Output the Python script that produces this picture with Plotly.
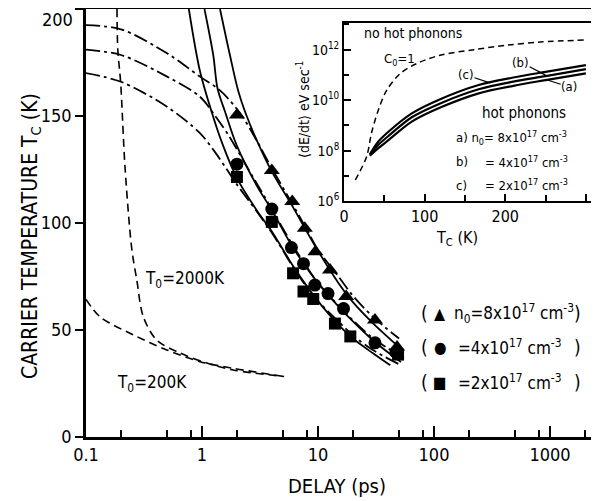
import math
import plotly.graph_objects as go

# ---------------- data: main panel ----------------
delay_tri = [2, 4, 6, 7.7, 9.5, 12.7, 17.5, 31, 48]
tc_tri = [150.5, 124.5, 110, 97.5, 86.6, 78, 65.6, 54.7, 42]
delay_circ = [2, 4, 5.9, 7.5, 9.4, 12.2, 16.6, 31, 47]
tc_circ = [127.5, 106.5, 88.5, 81, 71, 67, 60, 44, 39.5]
delay_sq = [2, 4, 6.1, 7.5, 9.1, 14, 19, 49]
tc_sq = [121.5, 100.5, 76.5, 68, 64.5, 53, 47, 38.5]

# solid model curves (hot phonons)
s1_t = [0.77, 0.96, 1.21, 1.5, 2, 3, 4, 6, 8, 10, 15, 20, 30, 42]
s1_T = [200, 171, 152, 137, 121, 105.5, 96, 80.5, 70.5, 63.5, 52.5, 46, 39, 33.5]
s2_t = [1.05, 1.25, 1.36, 1.58, 2, 3, 4, 6, 8, 10, 15, 20, 30, 52]
s2_T = [200, 178.5, 163, 152, 136, 117, 106, 89, 79, 72, 61, 54, 45, 35]
s3_t = [1.43, 1.74, 2.06, 2.35, 3, 4, 6, 8, 10, 15, 20, 30, 55]
s3_T = [200, 178.5, 161.4, 152, 138, 124, 108, 96, 87, 72, 63, 53, 40]

# dash-dot model curves
d1_t = [0.1, 0.2, 0.5, 0.96, 1.43, 2.15, 3, 4, 6, 8, 10, 15, 20, 30, 50]
d1_T = [192.5, 190.5, 179.3, 168.4, 162, 151, 138, 125.5, 109, 97, 87.5, 75, 66, 56, 46]
d2_t = [0.1, 0.2, 0.5, 0.96, 1.3, 1.74, 2.2, 3, 4, 6, 8, 10, 15, 20, 30, 55]
d2_T = [181, 178.5, 168.4, 159, 150, 140, 130.5, 118, 106.5, 90, 79.5, 72, 61.5, 54.5, 46, 37]
d3_t = [0.1, 0.2, 0.5, 0.96, 1.3, 1.64, 2, 3, 4, 6, 8, 10, 15, 20, 30, 50]
d3_T = [170, 166, 154.3, 142, 133, 125, 118, 105, 95.5, 80, 70, 63.5, 54, 47.5, 40.5, 34]

# dashed curves (T0 = 2000 K, T0 = 200 K)
t2000_t = [0.185, 0.188, 0.199, 0.217, 0.248, 0.274, 0.312, 0.407, 0.645, 1.1, 1.86, 5.1]
t2000_T = [200, 181, 165.4, 126, 88, 73.4, 56.2, 45.3, 39.3, 34.6, 31.3, 28.3]
t200_t = [0.1, 0.132, 0.256, 0.497, 0.96, 1.86, 5.1]
t200_T = [64.3, 56.2, 47.7, 40.7, 35.2, 32.1, 28.3]

# ---------------- data: inset ----------------
ins_dash_T = [14, 28, 34, 42.6, 53, 70, 90, 119, 161, 202, 243, 300]
ins_dash_r = [6.9e6, 5.8e7, 4.9e8, 4.1e9, 2.5e10, 1.15e11, 2.8e11, 6.0e11, 1.0e12, 1.5e12, 2.0e12, 2.4e12]
ins_T = [32, 42.6, 55, 84, 120, 167, 210, 250, 300]
ins_c = [7.1e7, 2.3e8, 5.6e8, 3.0e9, 1.12e10, 4.0e10, 7.9e10, 1.32e11, 2.45e11]
ins_b = [6.8e7, 1.7e8, 3.8e8, 2.1e9, 7.6e9, 2.7e10, 5.4e10, 8.9e10, 1.7e11]
ins_a = [6.3e7, 1.26e8, 2.6e8, 1.41e9, 5.2e9, 1.86e10, 3.7e10, 6.2e10, 1.15e11]

main_xticks = [0.1, 1, 10, 100, 1000]
main_xticktext = ["0.1", "1", "10", "100", "1000"]
main_xminor = [0.2, 0.5, 0.8, 2, 5, 8, 20, 50, 80, 200, 500, 800, 2000]
main_yticks = [0, 50, 100, 150, 200]
main_yticktext = ["0", "50", "100", "150", ""]   # "200" drawn as annotation (top edge)
ins_xticks = [0, 100, 200, 300]
ins_xminor = [50, 150, 250]
ins_yticks = [1e6, 1e8, 1e10, 1e12]
ins_yticktext = ["10<sup>6</sup>", "10<sup>8</sup>", "10<sup>10</sup>", "10<sup>12</sup>"]
ins_yminor = [1e7, 1e9, 1e11, 1e13]

FONT = "Liberation Sans Narrow, DejaVu Sans Condensed, Liberation Sans, Arial, sans-serif"
K = "black"

fig = go.Figure()

def line(x, y, dash="solid", width=1.8, xa="x", ya="y"):
    fig.add_trace(go.Scatter(x=x, y=y, mode="lines", xaxis=xa, yaxis=ya,
                             line=dict(color=K, width=width, dash=dash, shape="spline", smoothing=0.9),
                             hoverinfo="skip"))

DASHDOT = "14px,4px,3px,4px"
DASH = "8px,5px"
for xs, ys in [(s1_t, s1_T), (s2_t, s2_T), (s3_t, s3_T)]:
    line(xs, ys, "solid", 1.8)
for xs, ys in [(d1_t, d1_T), (d2_t, d2_T), (d3_t, d3_T)]:
    line(xs, ys, DASHDOT, 1.8)
line(t2000_t, t2000_T, DASH, 1.6)
line(t200_t, t200_T, DASH, 1.6)

for xs, ys, sym, sz in [(delay_tri, tc_tri, "triangle-up", 14),
                        (delay_circ, tc_circ, "circle", 13),
                        (delay_sq, tc_sq, "square", 12)]:
    fig.add_trace(go.Scatter(x=xs, y=ys, mode="markers",
                             marker=dict(symbol=sym, size=sz, color=K, line=dict(width=0)),
                             hoverinfo="skip"))

# inset
line(ins_dash_T, ins_dash_r, "6px,4px", 1.5, "x2", "y2")
for ys in [ins_a, ins_b, ins_c]:
    line(ins_T, ys, "solid", 2.2, "x2", "y2")

axis_common = dict(showline=True, linecolor=K, showgrid=False, zeroline=False,
                   automargin=False, tickcolor=K,
                   tickfont=dict(family=FONT, size=18, color=K))

# The page body has an 8px margin, so the figure is 8px smaller and the
# margins are measured from the figure's own corner.
fig.update_layout(
    width=591, height=493,
    margin=dict(l=78, r=1, t=1, b=64, autoexpand=False),
    paper_bgcolor="white", plot_bgcolor="white",
    showlegend=False,
    xaxis=dict(type="log", range=[-1, 3.414], linewidth=2.5, mirror=True,
               ticks="inside", ticklen=11, tickwidth=2,
               tickmode="array", tickvals=main_xticks, ticktext=main_xticktext,
               minor=dict(tickmode="array", tickvals=main_xminor, ticks="inside",
                          ticklen=7, tickwidth=2, tickcolor=K, showgrid=False),
               **axis_common),
    yaxis=dict(range=[0, 200], linewidth=2.5, mirror=True,
               ticks="outside", ticklen=8, tickwidth=2,
               tickmode="array", tickvals=main_yticks, ticktext=main_yticktext,
               **axis_common),
    xaxis2=dict(domain=[0.504, 1.0], anchor="y2", range=[0, 315], linewidth=2,
                mirror=True, ticks="inside", ticklen=7, tickwidth=1.5,
                tickmode="array", tickvals=ins_xticks,
                minor=dict(tickmode="array", tickvals=ins_xminor, ticks="inside",
                           ticklen=6, tickwidth=1.5, tickcolor=K, showgrid=False),
                **{**axis_common, "tickfont": dict(family=FONT, size=16, color=K)}),
    yaxis2=dict(domain=[0.551, 0.967], anchor="x2", type="log", range=[6, 13.05],
                linewidth=2, mirror=True, ticks="inside", ticklen=7, tickwidth=1.5,
                tickmode="array", tickvals=ins_yticks, ticktext=ins_yticktext,
                minor=dict(tickmode="array", tickvals=ins_yminor, ticks="inside",
                           ticklen=5, tickwidth=1.5, tickcolor=K, showgrid=False),
                **{**axis_common, "tickfont": dict(family=FONT, size=14, color=K)}),
)

def px2paper(px, py):
    # px, py are page pixels; plot area spans 86..598 x 9..437 on the page
    return (px - 86) / 512.0, (437 - py) / 428.0

def txt(px, py, s, size=18, xanchor="center", angle=0):
    x, y = px2paper(px, py)
    fig.add_annotation(x=x, y=y, xref="paper", yref="paper", text=s, showarrow=False,
                       xanchor=xanchor, yanchor="middle", textangle=angle,
                       font=dict(family=FONT, size=size, color=K))

# top y tick label (kept inside the page)
txt(75, 20, "200", 18, "right")

# axis titles
txt(337, 486, "DELAY (ps)", 20)
txt(31, 236, "CARRIER TEMPERATURE T<sub>C</sub> (K)", 21, angle=-90)

# curve labels
txt(143, 280, "T<sub>0</sub>=2000K", 17, "left")
txt(115, 383, "T<sub>0</sub>=200K", 17, "left")

# legend rows
rows = [(313, "\u25B2", "n<sub>0</sub>=8x10<sup>17</sup> cm<sup>-3</sup>", 452),
        (347, "\u25CF", "=4x10<sup>17</sup> cm<sup>-3</sup>", 456),
        (382, "\u25A0", "=2x10<sup>17</sup> cm<sup>-3</sup>", 456)]
for py, glyph, label, lx in rows:
    txt(424, py, "(", 19)
    txt(440, py, glyph, 16)
    txt(lx, py, label, 17, "left")
    txt(577, py, ")", 19)

# inset titles and texts
txt(457, 238, "T<sub>C</sub> (K)", 16)
txt(303, 110, "\u27E8dE/dt\u27E9 eV sec<sup>-1</sup>", 14, angle=-90)
txt(362, 33, "no hot phonons", 14, "left")
txt(382, 60, "C<sub>0</sub>=1", 13, "left")
txt(480, 113, "hot phonons", 15, "left")
txt(454, 138, "a) n<sub>0</sub>= 8x10<sup>17</sup> cm<sup>-3</sup>", 13, "left")
txt(454, 162, "b)", 13, "left")
txt(483, 162, "= 4x10<sup>17</sup> cm<sup>-3</sup>", 13, "left")
txt(454, 185, "c)", 13, "left")
txt(483, 185, "= 2x10<sup>17</sup> cm<sup>-3</sup>", 13, "left")

# inset curve labels with leader lines
for T, r, ax, ay, lab in [(181, 4.8e10, -24, -8, "(c)"),
                          (250, 9.8e10, -25, -13, "(b)"),
                          (252, 6.3e10, 22, 7, "(a)")]:
    fig.add_annotation(x=T, y=math.log10(r), xref="x2", yref="y2", text=lab,
                       showarrow=True, arrowhead=0, arrowwidth=1.2, arrowcolor=K,
                       ax=ax, ay=ay, borderpad=0,
                       font=dict(family=FONT, size=13, color=K))

fig.write_html("out.html")
